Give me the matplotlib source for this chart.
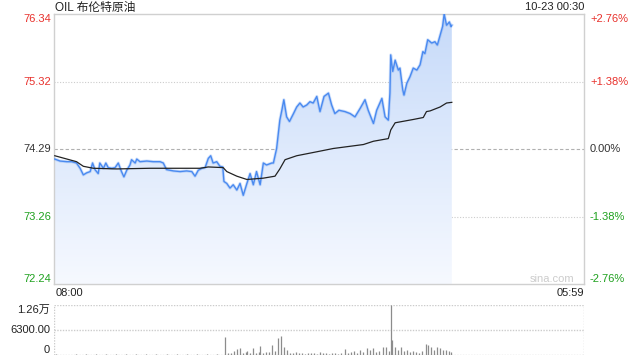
import matplotlib
matplotlib.use("Agg")
import matplotlib.pyplot as plt
import numpy as np
from matplotlib.patches import Polygon
from matplotlib.colors import LinearSegmentedColormap

plt.rcParams['font.family'] = ['Liberation Sans', 'Noto Sans CJK SC']

# ---------------- data ----------------
title = "OIL 布伦特原油"
stamp = "10-23 00:30"
prev_close = 74.29
y_ticks_left = ["76.34", "75.32", "74.29", "73.26", "72.24"]
y_ticks_right = ["+2.76%", "+1.38%", "0.00%", "-1.38%", "-2.76%"]
x_labels = ["08:00", "05:59"]
session_minutes = 1319
vol_labels = ["1.26万", "6300.00", "0"]
vol_max = 12600

# minutes after 08:00 and last price
price_t = [2, 15, 32, 44, 56, 65, 73, 81, 90, 96, 102, 110, 114, 123, 129, 135, 144, 152,
           160, 168, 174, 181, 189, 193, 202, 206, 214, 231, 247, 264, 272, 280, 297, 314,
           330, 343, 351, 359, 368, 376, 384, 390, 396, 405, 413, 420, 423, 430, 438, 446,
           455, 463, 471, 480, 488, 496, 504, 513, 521, 529, 542, 546, 554, 562, 567, 572,
           579, 586, 596, 604, 612, 620, 629, 637, 645, 654, 662, 672, 683, 691, 699, 709,
           724, 737, 749, 762, 774, 782, 795, 803, 816, 824, 832, 836, 838, 843, 849, 857,
           861, 868, 871, 878, 886, 894, 903, 911, 918, 923, 930, 940, 948, 954, 961, 967,
           971, 977, 984, 988, 990]
price_v = [74.14, 74.11, 74.10, 74.10, 74.08, 74.00, 73.90, 73.93, 73.95, 74.08, 73.98, 73.92,
           74.08, 74.00, 74.08, 74.01, 74.00, 74.01, 74.08, 73.95, 73.87, 73.97, 74.05, 74.13,
           74.08, 74.14, 74.10, 74.11, 74.10, 74.10, 74.08, 73.98, 73.96, 73.95, 73.96, 73.95,
           73.88, 73.97, 74.00, 74.01, 74.15, 74.19, 74.08, 74.10, 74.03, 74.02, 73.80, 73.77,
           73.70, 73.75, 73.67, 73.77, 73.59, 73.77, 73.92, 73.75, 73.95, 73.75, 74.08, 74.05,
           74.08, 74.08, 74.30, 74.73, 74.88, 75.04, 74.78, 74.71, 74.83, 74.93, 74.99, 74.93,
           74.96, 75.01, 74.99, 75.09, 74.86, 75.09, 75.14, 74.96, 74.83, 74.88, 74.86, 74.83,
           74.78, 74.91, 75.04, 74.88, 74.68, 74.88, 75.06, 74.78, 74.73, 75.14, 75.72, 75.47,
           75.64, 75.49, 75.52, 75.19, 75.11, 75.29, 75.39, 75.52, 75.49, 75.57, 75.77, 75.74,
           75.95, 75.90, 75.92, 75.87, 76.02, 76.15, 76.34, 76.17, 76.22, 76.15, 76.17]

# average price line
avg_t = [2, 32, 56, 73, 98, 156, 239, 363, 384, 421, 430, 455, 480, 521, 550, 562, 575, 604,
         654, 695, 770, 795, 832, 838, 849, 894, 919, 927, 936, 961, 977, 990]
avg_v = [74.19, 74.14, 74.10, 74.03, 74.00, 73.99, 74.00, 74.00, 74.02, 74.01, 73.95, 73.88,
         73.83, 73.85, 73.88, 73.99, 74.13, 74.19, 74.25, 74.30, 74.36, 74.41, 74.45, 74.58,
         74.69, 74.74, 74.77, 74.86, 74.87, 74.93, 74.99, 75.00]

# volume (minutes after 08:00, contracts)
vol_t = [5, 30, 55, 80, 105, 130, 155, 180, 205, 230, 255, 280, 305, 330, 355, 380, 405,
         426, 433, 440, 448, 455, 463, 470, 478, 480, 488, 495, 503, 510, 513, 520, 528, 535,
         543, 550, 557, 565, 572, 580, 587, 595, 602, 610, 617, 625, 632, 640, 647, 655, 662,
         669, 677, 684, 692, 699, 707, 714, 724, 732, 739, 747, 754, 762, 769, 779, 786, 794,
         801, 809, 819, 826, 834, 839, 842, 849, 856, 864, 871, 879, 886, 893, 901, 908, 916,
         926, 931, 938, 946, 953, 961, 968, 976, 983, 988]
vol_v = [150, 120, 180, 140, 160, 130, 170, 150, 140, 160, 180, 150, 170, 140, 190, 160, 200,
         4560, 600, 400, 900, 1400, 1650, 500, 700, 1000, 400, 1650, 600, 800, 2240, 500, 830,
         700, 2500, 900, 4150, 4730, 1900, 1250, 600, 500, 650, 400, 550, 350, 600, 400, 500,
         350, 700, 400, 450, 300, 500, 400, 350, 600, 1500, 500, 700, 1080, 600, 1250, 800,
         1650, 1300, 1650, 700, 900, 2070, 1900, 1000, 12600, 3730, 1900, 1200, 1900, 900,
         1200, 700, 1000, 800, 600, 1000, 2740, 2500, 1900, 1200, 1900, 1650, 1200, 1250, 900,
         830]

# ---------------- styling ----------------
RED = "#e8312c"
GREEN = "#1fa11f"
DARK = "#333333"
LINE = "#4a8af0"
span = 2.05
ymin, ymax = prev_close - span, prev_close + span

fig = plt.figure(figsize=(6.4, 3.6), dpi=100)
ax = fig.add_axes([54 / 640, 1 - 284.3 / 360, 530 / 640, (284.3 - 14) / 360])
axv = fig.add_axes([54 / 640, 1 - 355 / 360, 530 / 640, (355 - 304.5) / 360])

ax.set_xlim(0, session_minutes)
ax.set_ylim(ymin, ymax)
for s in ax.spines.values():
    s.set_color("#d0d0d0")
    s.set_linewidth(1)
ax.set_xticks([])
ax.set_yticks([])

# grid lines
ax.axhline(prev_close, color="#b0b0b0", lw=0.8, ls=(0, (3, 2)), zorder=1)
ax.axhline(prev_close + span / 2, color="#cccccc", lw=0.8, ls=(0, (1, 1.5)), zorder=1)
ax.axhline(prev_close - span / 2, color="#cccccc", lw=0.8, ls=(0, (1, 1.5)), zorder=1)

# gradient fill below price line
cmap = LinearSegmentedColormap.from_list("g", ["#c6daf9", "#f6f9ff"])
grad = np.linspace(0, 1, 256).reshape(-1, 1)
im = ax.imshow(grad, extent=[0, session_minutes, ymin, ymax], origin="upper",
               aspect="auto", cmap=cmap, zorder=2)
verts = [(price_t[0], ymin)] + list(zip(price_t, price_v)) + [(price_t[-1], ymin)]
poly = Polygon(verts, closed=True, facecolor="none", edgecolor="none", transform=ax.transData)
ax.add_patch(poly)
im.set_clip_path(poly)

ax.plot(price_t, price_v, color=LINE, lw=2.2, alpha=0.25, zorder=3, solid_joinstyle="round")
ax.plot(price_t, price_v, color=LINE, lw=1.0, zorder=4, solid_joinstyle="round")
ax.plot(avg_t, avg_v, color="#222222", lw=0.9, zorder=5)

# left / right labels
ylevels = [ymax, prev_close + span / 2, prev_close, prev_close - span / 2, ymin]
vas = ["top", "center", "center", "center", "bottom"]
cols = [RED, RED, DARK, GREEN, GREEN]
fs = 8
for lv, lt, rt, va, c in zip(ylevels, y_ticks_left, y_ticks_right, vas, cols):
    ax.text(-3 / 530, lv, lt, transform=ax.get_yaxis_transform(), ha="right", va=va,
            color=c, fontsize=fs)
    ax.text(1 + 6 / 530, lv, rt, transform=ax.get_yaxis_transform(), ha="left", va=va,
            color=c, fontsize=fs)

fig.text(55 / 640, 1 - 7.5 / 360, title, ha="left", va="center", fontsize=8.5, color="#222222")
fig.text(584 / 640, 1 - 7.5 / 360, stamp, ha="right", va="center", fontsize=8, color="#222222")
fig.text(56 / 640, 1 - 293.5 / 360, x_labels[0], ha="left", va="center", fontsize=8, color="#222222")
fig.text(584 / 640, 1 - 293.5 / 360, x_labels[1], ha="right", va="center", fontsize=8, color="#222222")
fig.text(574 / 640, 1 - 279 / 360, "sina.com", ha="right", va="center", fontsize=8, color="#cccccc")

# volume panel
axv.set_xlim(0, session_minutes)
axv.set_ylim(0, vol_max)
axv.set_xticks([])
axv.set_yticks([])
for s in axv.spines.values():
    s.set_visible(False)
for yy in (0, vol_max / 2, vol_max):
    axv.axhline(yy, color="#cccccc", lw=1, ls=(0, (1, 1)), zorder=1)
for xx in (0, session_minutes):
    axv.axvline(xx, color="#cccccc", lw=1, ls=(0, (1, 1)), zorder=1)
axv.vlines(vol_t, 0, vol_v, color="#8c8c8c", lw=0.9, zorder=3)

vlev = [vol_max, vol_max / 2, 0]
vva = ["top", "center", "bottom"]
for lv, lt, va in zip(vlev, vol_labels, vva):
    axv.text(-4 / 530, lv, lt, transform=axv.get_yaxis_transform(), ha="right", va=va,
             color="#222222", fontsize=8)

fig.savefig("out.png", dpi=100)
